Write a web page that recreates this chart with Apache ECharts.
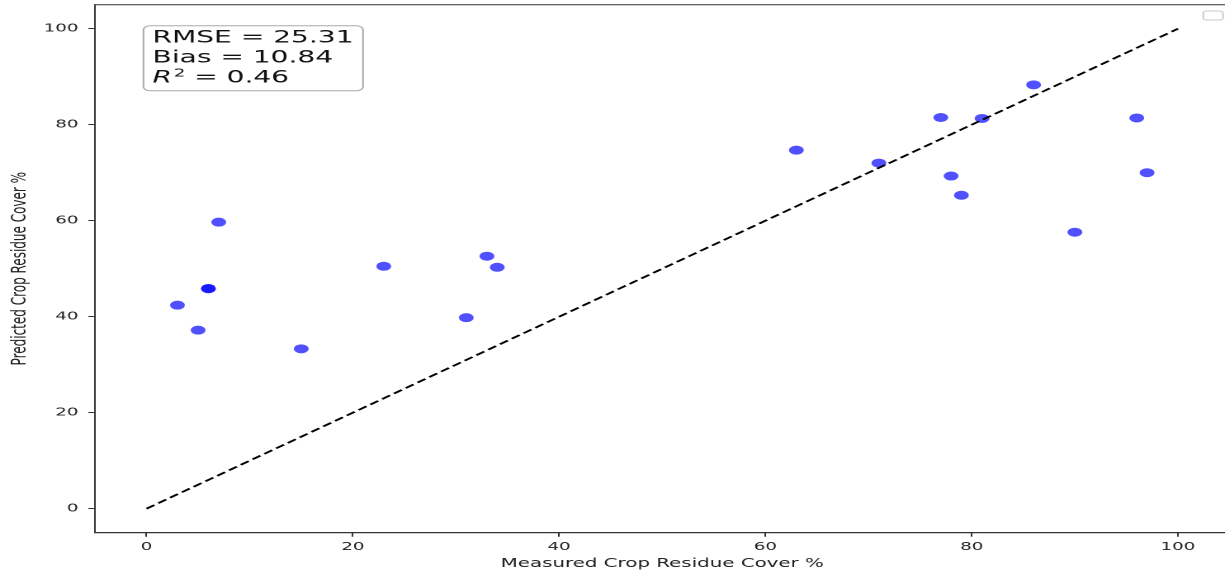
<!DOCTYPE html>
<html>
<head>
<meta charset="utf-8">
<script src="https://cdn.jsdelivr.net/npm/echarts@6/dist/echarts.min.js"></script>
<style>
html,body{margin:0;padding:0;background:#fff;overflow:hidden;}
#c{width:742px;height:573px;transform:scaleX(1.6509);transform-origin:0 0;}
</style>
</head>
<body>
<div id="c"></div>
<script>
// Measured vs predicted crop residue cover (%)
const measured  = [3, 5, 6, 6, 7, 15, 23, 31, 33, 34, 63, 71, 77, 78, 79, 81, 86, 90, 96, 97];
const predicted = [42.4, 37.2, 45.8, 45.9, 59.7, 33.3, 50.5, 39.8, 52.6, 50.3, 74.7, 72.0, 81.5, 69.3, 65.3, 81.3, 88.3, 57.6, 81.4, 70.0];
const oneToOneX = [0, 100];
const oneToOneY = [0, 100];
const xTicks = [0, 20, 40, 60, 80, 100];
const yTicks = [0, 20, 40, 60, 80, 100];
const rmse = '25.31';
const bias = '10.84';
const r2 = '0.46';
const xTitle = 'Measured Crop Residue Cover %';
const yTitle = 'Predicted Crop Residue Cover %';

const FONT = 'DejaVu Sans';
const chart = echarts.init(document.getElementById('c'), null, {devicePixelRatio: 2});

const axisCommon = {
  type: 'value',
  min: -5,
  max: 105,
  nameLocation: 'middle',
  nameMoveOverlap: false,
  nameTextStyle: {fontFamily: FONT, fontSize: 12, color: '#222'},
  axisLine: {show: true, onZero: false, lineStyle: {color: '#333', width: 1}},
  splitLine: {show: false}
};

chart.setOption({
  animation: false,
  backgroundColor: '#fff',
  grid: {left: 57.5, right: -2.8, top: 4.7, bottom: 40.3, containLabel: false, outerBoundsMode: 'none',
         show: true, borderColor: '#333', borderWidth: 1, backgroundColor: 'transparent'},
  title: {
    left: 86.4,
    top: 25.3,
    padding: [3, 6, 3, 6],
    borderColor: '#aaa',
    borderWidth: 1,
    borderRadius: 4,
    backgroundColor: 'rgba(255,255,255,0.8)',
    text: '{n|RMSE = ' + rmse + '}\n{n|Bias = ' + bias + '}\n{i|R}{s|2}{n| = ' + r2 + '}',
    textStyle: {
      fontFamily: FONT, fontSize: 17, fontWeight: 'normal', color: '#111', lineHeight: 20,
      rich: {
        n: {fontFamily: FONT, fontSize: 17, color: '#111', lineHeight: 20},
        i: {fontFamily: FONT, fontSize: 17, fontStyle: 'italic', color: '#111', lineHeight: 20},
        s: {fontFamily: FONT, fontSize: 11, color: '#111', lineHeight: 10, verticalAlign: 'top', padding: [0, 0, 0, 1]}
      }
    }
  },
  graphic: [{
    type: 'rect',
    shape: {x: 728.8, y: 11, width: 12, height: 9, r: 2},
    style: {fill: '#fff', stroke: '#ccc', lineWidth: 1}
  }],
  xAxis: Object.assign({}, axisCommon, {
    name: xTitle,
    nameGap: 25,
    axisTick: {show: true, length: 4, customValues: xTicks, lineStyle: {color: '#333'}},
    axisLabel: {customValues: xTicks, margin: 9, fontFamily: FONT, fontSize: 11, color: '#222'}
  }),
  yAxis: Object.assign({}, axisCommon, {
    name: yTitle,
    nameGap: 39,
    axisTick: {show: true, length: 4, customValues: yTicks, lineStyle: {color: '#333'}},
    axisLabel: {customValues: yTicks, margin: 10, fontFamily: FONT, fontSize: 11, color: '#222'}
  }),
  series: [
    {
      type: 'scatter',
      data: measured.map((m, i) => [m, predicted[i]]),
      symbol: 'circle',
      symbolSize: 9,
      itemStyle: {color: 'rgba(0,0,255,0.86)'},
      z: 2
    },
    {
      type: 'line',
      data: oneToOneX.map((x, i) => [x, oneToOneY[i]]),
      symbol: 'none',
      lineStyle: {color: '#000', width: 1.7, type: [6, 3]},
      z: 3
    }
  ]
});
</script>
</body>
</html>
